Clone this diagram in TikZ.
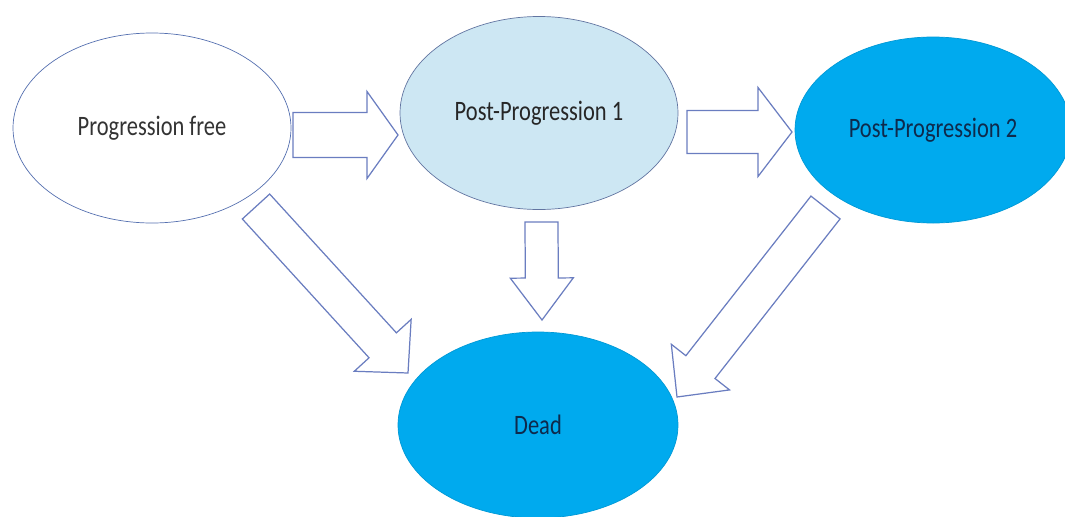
\documentclass[tikz,border=0pt]{standalone}
\usepackage{fontspec}
\setmainfont{Carlito}[FakeStretch=0.8]
\usepackage{tikz}
\usetikzlibrary{calc,shapes.geometric}
\definecolor{paleblue}{HTML}{CDE7F3}
\definecolor{brightblue}{HTML}{00AAEE}
\definecolor{arrowline}{HTML}{6A7DC0}
\definecolor{rimblue}{HTML}{5570B0}
\definecolor{inkblue}{HTML}{0E2A4C}
% hollow block arrow: tail, tip, half shaft, half head, head length
\newcommand{\fatarrow}[5]{%
\coordinate (hb) at ($(#2)!#5!(#1)$);
\draw[fatarrow] ($(#1)!#3!90:(#2)$) -- ($(hb)!#3!90:(#2)$) -- ($(hb)!#4!90:(#2)$) -- (#2)
  -- ($(hb)!#4!-90:(#2)$) -- ($(hb)!#3!-90:(#2)$) -- ($(#1)!#3!-90:(#2)$) -- cycle;
}

\begin{document}
\begin{tikzpicture}[
  state/.style={ellipse, draw, thin, inner sep=0pt, font=\fontsize{16}{19}\selectfont},
  fatarrow/.style={draw=arrowline, fill=white, line width=0.7pt, line join=miter}]
\useasboundingbox (0,0) rectangle (21.3,10.32);
\node[state, draw=rimblue, fill=white, text=black!80, minimum width=5.56cm, minimum height=3.8cm] (free) at (3.04,7.76) {Progression free};
\node[state, draw=rimblue!70!gray, fill=paleblue, text=black!85, minimum width=5.56cm, minimum height=3.86cm] (post1) at (10.78,8.06) {Post-Progression 1};
\node[state, draw=brightblue!90!black, fill=brightblue, text=inkblue, minimum width=5.52cm, minimum height=3.72cm] (post2) at (18.66,7.72) {Post-Progression 2};
\node[state, draw=brightblue!90!black, fill=brightblue, text=inkblue, minimum width=5.6cm, minimum height=3.72cm] (dead) at (10.76,1.82) {Dead};

% arrow ends
\coordinate (a1) at (5.86,7.62);  \coordinate (b1) at (7.96,7.62);
\coordinate (a2) at (13.74,7.68); \coordinate (b2) at (15.84,7.68);
\coordinate (a3) at (10.83,5.88); \coordinate (b3) at (10.84,3.92);
\coordinate (a4) at (5.12,6.19);  \coordinate (b4) at (8.16,2.86);
\coordinate (a5) at (16.51,6.17); \coordinate (b5) at (13.54,2.38);

\fatarrow{a1}{b1}{0.45cm}{0.87cm}{0.62cm}
\fatarrow{a2}{b2}{0.43cm}{0.89cm}{0.68cm}
\fatarrow{a3}{b3}{0.33cm}{0.63cm}{0.84cm}
\fatarrow{a4}{b4}{0.37cm}{0.77cm}{0.75cm}
\fatarrow{a5}{b5}{0.37cm}{0.74cm}{0.76cm}
\end{tikzpicture}
\end{document}
